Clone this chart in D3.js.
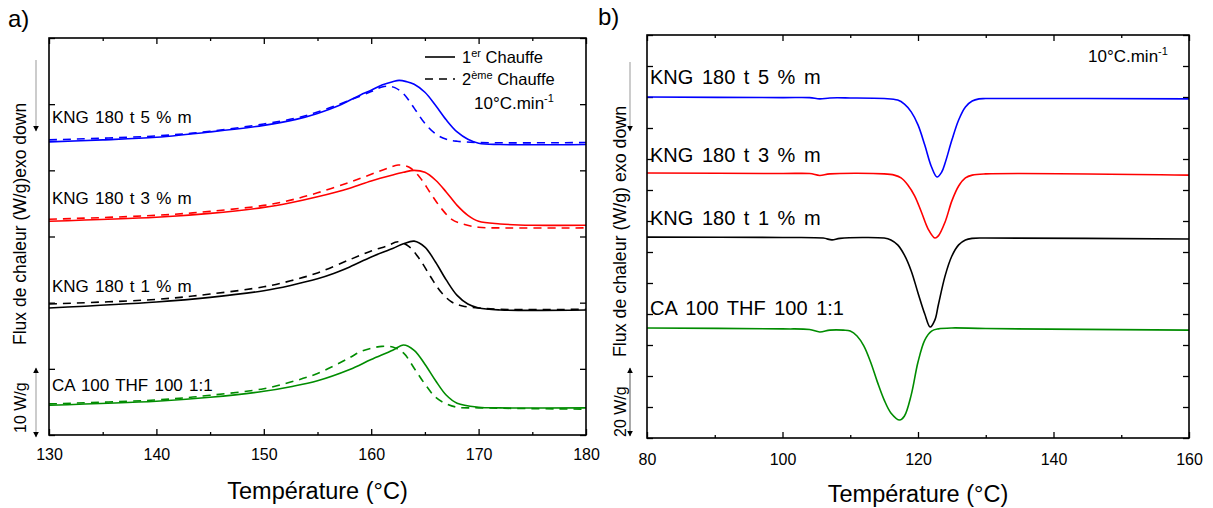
<!DOCTYPE html>
<html><head><meta charset="utf-8">
<script src="https://cdn.jsdelivr.net/npm/d3@7"></script>
<style>
body{margin:0;background:#fff;}
svg text{font-family:"Liberation Sans",Arial,sans-serif;fill:#000;}
</style></head><body>
<svg id="c" width="1213" height="508"></svg>
<script>
// ---------- Panel a data (Température °C, flux W/g offset) ----------
const aTicksMajor = [130,140,150,160,170,180];
const aTicksMinor = [135,145,155,165,175];
const aYTicks = [0,10,20,30,40,50,60];
const a_kng5_1 = [[130,44.3],[135,44.6],[140,45.0],[145,45.8],[150,46.8],[153,47.7],[155,48.6],[157,49.8],[158,50.6],[159,51.4],[160,52.1],[161,52.9],[162,53.4],[162.6,53.6],[163.3,53.4],[164,53.0],[165,51.8],[166,49.8],[167,47.6],[168,45.8],[169,44.7],[170,44.1],[172,43.9],[180,43.9]];
const a_kng5_2 = [[130,44.6],[140,45.2],[145,45.9],[150,47.0],[153,47.9],[155,48.8],[158,50.6],[160,51.9],[161,52.6],[161.6,52.7],[162.2,52.5],[163,51.6],[164,49.4],[165,47.1],[166,45.5],[167,44.7],[168,44.4],[170,44.2],[180,44.2]];
const a_kng3_1 = [[130,32.3],[140,32.9],[145,33.5],[150,34.4],[152.5,35.1],[155,36.0],[158,37.3],[160,38.4],[162,39.3],[163,39.7],[164,40.0],[165,39.7],[166,38.5],[167,36.7],[168,34.7],[169,33.2],[170,32.3],[172,31.9],[175,31.7],[180,31.7]];
const a_kng3_2 = [[130,32.6],[140,33.2],[145,33.8],[150,34.7],[152.5,35.5],[155,36.6],[158,38.2],[160,39.4],[161.5,40.3],[162.5,40.8],[163.5,40.5],[164.5,39.0],[165.5,36.6],[166.5,34.3],[167.5,32.6],[168.5,31.9],[170,31.4],[172,31.3],[180,31.3]];
const a_kng1_1 = [[130,19.2],[140,20.1],[145,20.8],[150,21.8],[152.5,22.6],[155,23.6],[156.5,24.4],[158,25.4],[160,26.9],[162,28.2],[163,28.9],[164,29.3],[165,28.4],[166,26.1],[167,23.4],[168,21.1],[169,19.8],[170,19.2],[172,18.9],[180,18.9]];
const a_kng1_2 = [[130,19.8],[140,20.5],[145,21.3],[150,22.4],[152.5,23.3],[155,24.5],[158,26.5],[160,27.8],[161.5,28.6],[162.5,29.2],[163.5,28.5],[164.5,26.6],[165.5,24.0],[166.5,21.6],[167.5,20.1],[168.5,19.5],[170,19.2],[172,19.0],[180,19.0]];
const a_ca_1 = [[130,4.5],[140,5.1],[145,5.7],[150,6.6],[152.5,7.3],[155,8.2],[158,9.9],[160,11.4],[162,12.8],[163,13.6],[164,12.8],[165,10.7],[166,8.2],[167,6.0],[168,4.8],[170,4.2],[172,4.1],[180,4.1]];
const a_ca_2 = [[130,4.7],[140,5.3],[145,6.0],[150,7.0],[152.5,8.0],[155,9.3],[158,11.7],[159,12.6],[160,13.1],[161,13.4],[162,13.3],[163,12.4],[164,10.1],[165,7.7],[166,5.7],[167,4.7],[168,4.2],[170,4.1],[180,3.9]];
const aLabels = ["KNG 180 t 5 % m","KNG 180 t 3 % m","KNG 180 t 1 % m","CA 100 THF 100 1:1"];
const aLabelVals = [47.1, 34.9, 21.6, 6.7];

// ---------- Panel b data ----------
const bTicksMajor = [80,100,120,140,160];
const bTicksMinor = [90,110,130,150];
const bYTicks = d3.range(0,131,10);
const b_kng5 = [[80,110.0],[100,109.8],[104,109.8],[105.5,109.4],[107,109.7],[110,109.7],[115,109.5],[117,109.0],[118,107.7],[119,105.2],[120,101.0],[121,94.5],[122,87.4],[122.8,84.2],[123.5,85.8],[124,88.7],[125,96.1],[126,102.6],[127,106.8],[128,108.7],[129,109.4],[130,109.5],[160,109.4]];
const b_kng3 = [[80,85.5],[100,85.3],[104,85.3],[105.5,84.7],[107,85.2],[115,85.2],[116.5,84.8],[117.5,83.9],[118.5,81.6],[119.5,78.1],[120.5,72.9],[121.5,67.4],[122.5,64.5],[123,65.2],[124,69.7],[125,76.5],[126,81.3],[127,83.9],[128,84.8],[130,85.2],[160,84.8]];
const b_kng1 = [[80,64.8],[100,64.7],[106,64.5],[107.3,63.9],[108.5,64.4],[115,64.5],[116,63.9],[117,62.3],[118,59.0],[119,53.9],[120,46.8],[121,40.0],[121.8,35.8],[122.5,38.1],[123,42.9],[124,52.3],[125,58.7],[126,62.3],[127,63.9],[128,64.4],[130,64.5],[160,64.2]];
const b_ca = [[80,35.5],[100,35.2],[104,35.0],[105.5,34.2],[107,34.8],[109,34.8],[110,34.5],[111,32.9],[112,29.7],[113,24.5],[114,18.1],[115,12.3],[116,8.1],[117.3,5.8],[118,7.1],[119,13.9],[120,24.5],[121,31.6],[122,34.5],[123,35.2],[125,35.5],[130,35.3],[160,34.8]];
const bLabels = ["KNG 180 t 5 % m","KNG 180 t 3 % m","KNG 180 t 1 % m","CA 100 THF 100 1:1"];
const bLabelVals = [114.2, 89.0, 68.7, 39.7];

const BLUE="#0000ff", RED="#ff0000", BLACK="#000000", GREEN="#008c00";

const svg = d3.select("#c");
const defs = svg.append("defs");
defs.append("marker").attr("id","ah").attr("viewBox","0 0 10 10").attr("refX",9).attr("refY",5)
  .attr("markerWidth",6).attr("markerHeight",8).attr("orient","auto-start-reverse").attr("markerUnits","userSpaceOnUse")
  .append("path").attr("d","M0,0 L10,5 L0,10 Z").attr("fill","#000");

function panel(opt){
  const g = svg.append("g");
  const x = d3.scaleLinear(opt.xd, opt.xr);
  const y = d3.scaleLinear(opt.yd, opt.yr);
  const [x0,x1]=opt.xr, [yb,yt]=opt.yr;
  const ax = g.append("g").attr("transform",`translate(0,${yb})`)
    .call(d3.axisBottom(x).tickValues(opt.major).tickSizeInner(-6).tickSizeOuter(0).tickPadding(opt.pad).tickFormat(d3.format("d")));
  ax.selectAll("text").attr("font-size",16);
  g.append("g").attr("transform",`translate(0,${yb})`).call(d3.axisBottom(x).tickValues(opt.minor).tickSize(-3).tickFormat(""));
  g.append("g").attr("transform",`translate(0,${yt})`).call(d3.axisTop(x).tickValues(opt.major).tickSize(-6).tickFormat(""));
  g.append("g").attr("transform",`translate(0,${yt})`).call(d3.axisTop(x).tickValues(opt.minor).tickSize(-3).tickFormat(""));
  g.append("g").attr("transform",`translate(${x0},0)`).call(d3.axisLeft(y).tickValues(opt.yticks).tickSize(-6).tickFormat(""));
  g.append("g").attr("transform",`translate(${x1},0)`).call(d3.axisRight(y).tickValues(opt.yticks).tickSize(-6).tickFormat(""));
  g.selectAll(".domain").remove();
  g.selectAll(".tick line").attr("stroke","#000").attr("stroke-width",1.3);
  const line = d3.line().x(d=>x(d[0])).y(d=>y(d[1])).curve(d3.curveCatmullRom.alpha(0.5));
  opt.series.forEach(s=>{
    g.append("path").datum(s.data).attr("d",line).attr("fill","none").attr("stroke",s.color)
      .attr("stroke-width",1.6).attr("stroke-dasharray",s.dash?"8,6":null);
  });
  g.append("rect").attr("x",x0).attr("y",yt).attr("width",x1-x0).attr("height",yb-yt)
    .attr("fill","none").attr("stroke","#000").attr("stroke-width",1.6);
  opt.labels.forEach((t,i)=>{
    g.append("text").attr("x",x0+3).attr("y",y(opt.labelVals[i])).attr("font-size",opt.lfs)
      .attr("word-spacing",opt.ws).text(t);
  });
  g.append("text").attr("x",(x0+x1)/2).attr("y",opt.titleY).attr("text-anchor","middle").attr("font-size",23.5).text("Température (°C)");
  return {x,y,g};
}

panel({xd:[130,180], xr:[49,586], yd:[0,60], yr:[435,38], major:aTicksMajor, minor:aTicksMinor, yticks:aYTicks, pad:14, titleY:499,
  lfs:17, ws:1.5,
  series:[{data:a_kng5_1,color:BLUE},{data:a_kng5_2,color:BLUE,dash:true},
          {data:a_kng3_1,color:RED},{data:a_kng3_2,color:RED,dash:true},
          {data:a_kng1_1,color:BLACK},{data:a_kng1_2,color:BLACK,dash:true},
          {data:a_ca_1,color:GREEN},{data:a_ca_2,color:GREEN,dash:true}],
  labels:aLabels, labelVals:aLabelVals});
panel({xd:[80,160], xr:[647,1189], yd:[0,130], yr:[438,35], major:bTicksMajor, minor:bTicksMinor, yticks:bYTicks, pad:16, titleY:502,
  lfs:20, ws:3,
  series:[{data:b_kng5,color:BLUE},{data:b_kng3,color:RED},{data:b_kng1,color:BLACK},{data:b_ca,color:GREEN}],
  labels:bLabels, labelVals:bLabelVals});

svg.append("text").attr("x",8).attr("y",27).attr("font-size",24).text("a)");
svg.append("text").attr("x",598).attr("y",25).attr("font-size",24).text("b)");

const lg = svg.append("g");
lg.append("line").attr("x1",425).attr("x2",455).attr("y1",57).attr("y2",57).attr("stroke","#000").attr("stroke-width",1.6);
lg.append("line").attr("x1",425).attr("x2",455).attr("y1",79).attr("y2",79).attr("stroke","#000").attr("stroke-width",1.6).attr("stroke-dasharray","8,6");
const t1 = lg.append("text").attr("x",462).attr("y",63).attr("font-size",16.5);
t1.append("tspan").text("1");
t1.append("tspan").attr("dy",-6).attr("font-size",11).text("er");
t1.append("tspan").attr("dy",6).text(" Chauffe");
const t2 = lg.append("text").attr("x",462).attr("y",85).attr("font-size",16.5);
t2.append("tspan").text("2");
t2.append("tspan").attr("dy",-6).attr("font-size",11).text("ème");
t2.append("tspan").attr("dy",6).text(" Chauffe");
function rate(xp,yp){
  const t = svg.append("text").attr("x",xp).attr("y",yp).attr("font-size",17);
  t.append("tspan").text("10°C.min");
  t.append("tspan").attr("dy",-7).attr("font-size",11).text("-1");
}
rate(474,109);
rate(1088,62);

function ytitle(xp,yp,txt,fs){
  svg.append("text").attr("transform",`translate(${xp},${yp}) rotate(-90)`).attr("font-size",fs).text(txt);
}
ytitle(26,345,"Flux de chaleur (W/g)exo down",17.5);
ytitle(26,433,"10 W/g",16);
ytitle(626,357,"Flux de chaleur (W/g) exo down",17.8);
ytitle(626,437,"20 W/g",16);
function arrow(xp,y1,y2,color,both){
  const l = svg.append("line").attr("x1",xp).attr("x2",xp).attr("y1",y1).attr("y2",y2).attr("stroke",color).attr("stroke-width",1)
    .attr("marker-end","url(#ah)");
  if(both) l.attr("marker-start","url(#ah)");
}
arrow(36,60,131,"#999",false);
arrow(36,368,437,"#999",true);
arrow(630,62,131,"#999",false);
arrow(630,368,436,"#555",true);
</script>
</body></html>
